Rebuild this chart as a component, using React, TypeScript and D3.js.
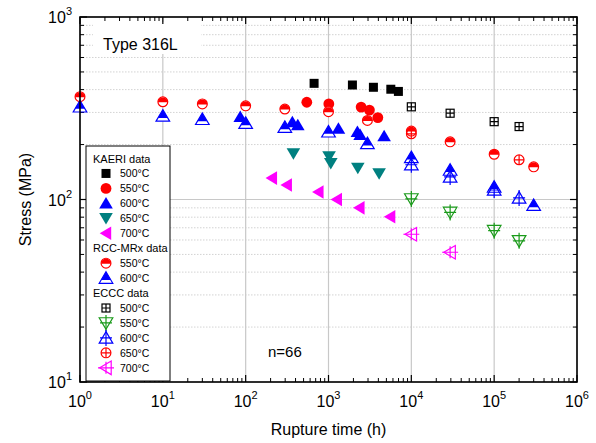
import React from 'react';
import * as d3 from 'd3';

// [rupture time (h), stress (MPa)]
const kaeri500 = [[670, 433], [1944, 424], [3485, 412], [5654, 402], [6980, 391]];
const kaeri550 = [[547, 341], [1009, 334], [2477, 321], [3119, 309], [3939, 281]];
const kaeri600 = [[86, 284], [366, 266], [426, 256], [1318, 245], [2234, 235], [2409, 226], [4693, 223]];
const kaeri650 = [[377, 179], [1016, 172], [1066, 158], [2259, 149], [4083, 139]];
const kaeri700 = [[207, 131], [313, 120], [755, 110], [1260, 100], [2360, 90], [5548, 80.5]];
const rcc550 = [[1, 366], [10, 343], [30, 334], [100, 326], [297, 313], [1000, 303], [2950, 271], [10000, 237], [29400, 207], [100000, 177], [300000, 151]];
const rcc600 = [[1, 322], [10, 287], [30, 275], [100, 262], [297, 249], [1000, 235], [2950, 203], [10000, 170], [29400, 145], [100000, 117], [300000, 93]];
const eccc500 = [[10000, 322], [29400, 297], [100000, 267], [200000, 251]];
const eccc550 = [[10000, 100.7], [29400, 85], [100000, 67.5], [200000, 59.4]];
const eccc600 = [[10000, 155], [29400, 133], [100000, 112.7], [200000, 102]];
const eccc650 = [[10000, 229], [200000, 165]];
const eccc700 = [[10000, 64.5], [29400, 51.4]];

const xDecades = [1, 10, 100, 1000, 10000, 100000, 1000000];
const yDecades = [10, 100, 1000];

const series = [
  { data: kaeri500, kind: 'square', color: '#000000' },
  { data: kaeri550, kind: 'circle', color: '#ff0000' },
  { data: kaeri600, kind: 'triUp', color: '#0000ff' },
  { data: kaeri650, kind: 'triDown', color: '#008080' },
  { data: kaeri700, kind: 'triLeft', color: '#ff00ff' },
  { data: rcc550, kind: 'halfCircle', color: '#ff0000' },
  { data: rcc600, kind: 'halfTriUp', color: '#0000ff' },
  { data: eccc500, kind: 'squarePlus', color: '#000000' },
  { data: eccc550, kind: 'triDownPlus', color: '#1a9a1a' },
  { data: eccc600, kind: 'triUpPlus', color: '#0000ff' },
  { data: eccc650, kind: 'circlePlus', color: '#ff0000' },
  { data: eccc700, kind: 'triLeftPlus', color: '#ff00ff' },
];

const legendRows = [
  { head: 'KAERI data' },
  { s: 0, label: '500°C' },
  { s: 1, label: '550°C' },
  { s: 2, label: '600°C' },
  { s: 3, label: '650°C' },
  { s: 4, label: '700°C' },
  { head: 'RCC-MRx data' },
  { s: 5, label: '550°C' },
  { s: 6, label: '600°C' },
  { head: 'ECCC data' },
  { s: 7, label: '500°C' },
  { s: 8, label: '550°C' },
  { s: 9, label: '600°C' },
  { s: 10, label: '650°C' },
  { s: 11, label: '700°C' },
];

const W = 596, H = 443;
const L = 80, R = 577, T = 17, B = 382;

const x = d3.scaleLog().domain([1, 1e6]).range([L, R]);
const y = d3.scaleLog().domain([10, 1000]).range([B, T]);

const minors = (decades: number[]) => {
  const out: number[] = [];
  decades.slice(0, -1).forEach(d => { for (let k = 2; k <= 9; k++) out.push(d * k); });
  return out;
};

const Marker = ({ kind, color, cx, cy }: { kind: string; color: string; cx: number; cy: number }) => {
  const sw = 1.2;
  const up = `M${cx},${cy - 6.3}L${cx + 6.8},${cy + 5.2}L${cx - 6.8},${cy + 5.2}Z`;
  const down = `M${cx},${cy + 6.3}L${cx + 6.8},${cy - 5.2}L${cx - 6.8},${cy - 5.2}Z`;
  const left = `M${cx - 6.3},${cy}L${cx + 5.2},${cy - 6.8}L${cx + 5.2},${cy + 6.8}Z`;
  const plus = (h: number, v: number) => (
    <path d={`M${cx - h},${cy}H${cx + h}M${cx},${cy - v}V${cy + v}`} stroke={color} strokeWidth={sw} fill="none" />
  );
  switch (kind) {
    case 'square':
      return <rect x={cx - 4.5} y={cy - 4.5} width={9} height={9} fill={color} />;
    case 'circle':
      return <circle cx={cx} cy={cy} r={5.4} fill={color} />;
    case 'triUp':
      return <path d={up} fill={color} />;
    case 'triDown':
      return <path d={down} fill={color} />;
    case 'triLeft':
      return <path d={left} fill={color} />;
    case 'halfCircle':
      return (
        <g>
          <circle cx={cx} cy={cy} r={4.9} fill="#fff" stroke={color} strokeWidth={sw} />
          <path d={`M${cx - 4.9},${cy + 0.5}A4.9,4.9 0 0 1 ${cx + 4.9},${cy + 0.5}Z`} fill={color} />
        </g>
      );
    case 'halfTriUp': {
      const lv = cy + 2, hw = 6.8 * (lv - (cy - 6.3)) / 11.5;
      return (
        <g>
          <path d={up} fill="#fff" stroke={color} strokeWidth={sw} />
          <path d={`M${cx},${cy - 6.3}L${cx + hw},${lv}L${cx - hw},${lv}Z`} fill={color} />
        </g>
      );
    }
    case 'squarePlus':
      return (
        <g>
          <rect x={cx - 4} y={cy - 4} width={8} height={8} fill="none" stroke={color} strokeWidth={sw} />
          {plus(4, 4)}
        </g>
      );
    case 'circlePlus':
      return (
        <g>
          <circle cx={cx} cy={cy} r={4.9} fill="none" stroke={color} strokeWidth={sw} />
          {plus(4.9, 4.9)}
        </g>
      );
    case 'triUpPlus':
      return (
        <g>
          <path d={up} fill="none" stroke={color} strokeWidth={sw} />
          {plus(6, 8)}
        </g>
      );
    case 'triDownPlus':
      return (
        <g>
          <path d={down} fill="none" stroke={color} strokeWidth={sw} />
          {plus(6, 8)}
        </g>
      );
    case 'triLeftPlus':
      return (
        <g>
          <path d={left} fill="none" stroke={color} strokeWidth={sw} />
          {plus(8, 6)}
        </g>
      );
  }
  return null;
};

export default function App() {
  const font = 'Arial, "Liberation Sans", sans-serif';
  const xMin = minors(xDecades);
  const yMin = minors(yDecades);
  const lgX = 86, lgY = 146, lgW = 84, lgH = 235, rowH = 14.95;

  return (
    <svg width={W} height={H} style={{ position: 'absolute', left: 0, top: 0, background: '#fff' }} fontFamily={font}>
      <rect x={0} y={0} width={W} height={H} fill="#fff" />
      {/* grid */}
      {yMin.map(v => (
        <line key={'gy' + v} x1={L} x2={R} y1={y(v)} y2={y(v)} stroke="#c8c8c8" strokeWidth={0.8} strokeDasharray="1.5,1.5" />
      ))}
      {yDecades.map(v => (
        <line key={'gY' + v} x1={L} x2={R} y1={y(v)} y2={y(v)} stroke="#c8c8c8" strokeWidth={1.2} />
      ))}
      {xDecades.map(v => (
        <line key={'gX' + v} x1={x(v)} x2={x(v)} y1={T} y2={B} stroke="#c8c8c8" strokeWidth={1.2} />
      ))}

      {/* label box */}
      <rect x={93} y={22} width={108} height={32} fill="#fff" />
      <text x={103} y={50} fontSize={16} fill="#000">Type 316L</text>

      {/* ticks */}
      {xDecades.map(v => (
        <g key={'tx' + v} stroke="#000" strokeWidth={1.2}>
          <line x1={x(v)} x2={x(v)} y1={B} y2={B - 7} />
          <line x1={x(v)} x2={x(v)} y1={T} y2={T + 7} />
        </g>
      ))}
      {xMin.map(v => (
        <g key={'tmx' + v} stroke="#000" strokeWidth={1}>
          <line x1={x(v)} x2={x(v)} y1={B} y2={B - 4} />
          <line x1={x(v)} x2={x(v)} y1={T} y2={T + 4} />
        </g>
      ))}
      {yDecades.map(v => (
        <g key={'ty' + v} stroke="#000" strokeWidth={1.2}>
          <line x1={L} x2={L + 7} y1={y(v)} y2={y(v)} />
          <line x1={R} x2={R - 7} y1={y(v)} y2={y(v)} />
        </g>
      ))}
      {yMin.map(v => (
        <g key={'tmy' + v} stroke="#000" strokeWidth={1}>
          <line x1={L} x2={L + 4} y1={y(v)} y2={y(v)} />
          <line x1={R} x2={R - 4} y1={y(v)} y2={y(v)} />
        </g>
      ))}

      {/* data */}
      {series.map((s, i) => (
        <g key={'s' + i}>
          {s.data.map((d, j) => (
            <Marker key={j} kind={s.kind} color={s.color} cx={x(d[0])} cy={y(d[1])} />
          ))}
        </g>
      ))}

      {/* legend */}
      <rect x={lgX} y={lgY} width={lgW} height={lgH} fill="#fff" stroke="#000" strokeWidth={1} />
      {legendRows.map((r, i) => {
        const cy = lgY + 12.5 + i * rowH;
        if (r.head) return <text key={'l' + i} x={lgX + 7} y={cy + 4} fontSize={11}>{r.head}</text>;
        const s = series[r.s!];
        return (
          <g key={'l' + i}>
            <Marker kind={s.kind} color={s.color} cx={lgX + 20} cy={cy} />
            <text x={lgX + 34} y={cy + 4} fontSize={10.5}>{r.label}</text>
          </g>
        );
      })}

      <text x={268} y={357} fontSize={15}>n=66</text>

      {/* frame */}
      <rect x={L} y={T} width={R - L} height={B - T} fill="none" stroke="#000" strokeWidth={1.6} />

      {/* tick labels */}
      {xDecades.map(v => (
        <text key={'lx' + v} x={x(v)} y={B + 25} fontSize={16} textAnchor="middle">
          <tspan>10</tspan>
          <tspan dy={-8} fontSize={11}>{Math.round(Math.log10(v))}</tspan>
        </text>
      ))}
      {yDecades.map(v => (
        <text key={'ly' + v} x={72} y={y(v) + 6} fontSize={16} textAnchor="end">
          <tspan>10</tspan>
          <tspan dy={-8} fontSize={11}>{Math.round(Math.log10(v))}</tspan>
        </text>
      ))}

      <text x={(L + R) / 2} y={435} fontSize={16} textAnchor="middle">Rupture time (h)</text>
      <text transform={`translate(31,${(T + B) / 2}) rotate(-90)`} fontSize={16} textAnchor="middle">Stress (MPa)</text>
    </svg>
  );
}
